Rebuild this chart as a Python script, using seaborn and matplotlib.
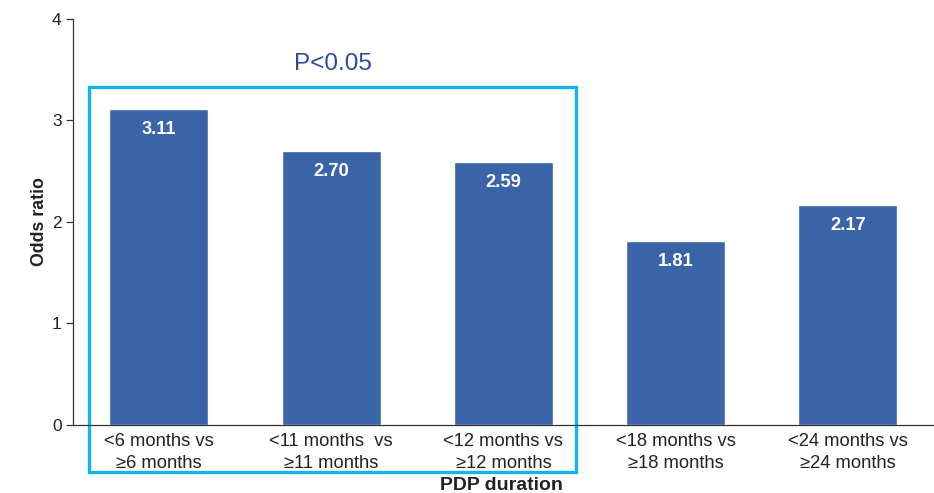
import matplotlib
matplotlib.use("Agg")
import matplotlib.pyplot as plt
from matplotlib.patches import Rectangle
import seaborn as sns
import pandas as pd

categories = [
    "<6 months vs\n≥6 months",
    "<11 months  vs\n≥11 months",
    "<12 months vs\n≥12 months",
    "<18 months vs\n≥18 months",
    "<24 months vs\n≥24 months",
]
odds_ratios = [3.11, 2.70, 2.59, 1.81, 2.17]
y_ticks = [0, 1, 2, 3, 4]

sns.set_theme(style="white")
plt.rcParams["font.family"] = ["Liberation Sans", "DejaVu Sans"]

df = pd.DataFrame({"comparison": categories, "odds_ratio": odds_ratios})

fig = plt.figure(figsize=(9.34, 4.93), dpi=100)
ax = fig.add_axes([0.078, 0.138, 0.922, 0.8235])

bar_color = "#3A64A8"
sns.barplot(data=df, x="comparison", y="odds_ratio", color=bar_color,
            saturation=1, width=0.575, ax=ax)

ax.set_xlim(-0.5, 4.5)
ax.set_ylim(0, 4)
ax.set_yticks(y_ticks)
ax.set_yticklabels([str(t) for t in y_ticks], fontsize=12.5, color="#222222")

for s in ["top", "right"]:
    ax.spines[s].set_visible(False)
ax.spines["left"].set_color("#333333")
ax.spines["bottom"].set_color("#333333")
ax.spines["left"].set_linewidth(0.9)
ax.spines["bottom"].set_linewidth(0.9)

ax.tick_params(axis="y", direction="out", length=5, width=0.9, color="#333333", pad=3, left=True)
ax.tick_params(axis="x", length=0, pad=6)
for lbl in ax.get_xticklabels():
    lbl.set_fontsize(13.2)
    lbl.set_color("#222222")
    lbl.set_linespacing(1.35)

ax.set_xlabel("")
ax.set_ylabel("Odds ratio", fontsize=12.8, fontweight="bold", color="#222222", labelpad=3)

# value labels inside the top of each bar
for bar, v in zip(ax.patches, odds_ratios):
    ax.annotate(f"{v:.2f}", xy=(bar.get_x() + bar.get_width() / 2, v),
                xytext=(0, -8.5), textcoords="offset points",
                ha="center", va="top", color="white",
                fontsize=13.2, fontweight="bold")

# axis title under the middle group
fig.text(501 / 934, 1 - 485 / 493, "PDP duration", ha="center", va="center",
         fontsize=14, fontweight="bold", color="#222222")

# significance frame around the first three comparisons
frame = Rectangle((-0.407, -0.463), 2.424 + 0.407, 3.33 + 0.463,
                  fill=False, edgecolor="#12B4EE", linewidth=2.4, clip_on=False)
ax.add_patch(frame)
ax.text(1.01, 3.56, "P<0.05", ha="center", va="center",
        fontsize=17.5, color="#2B4A9C")

fig.savefig("out.png", dpi=100)
